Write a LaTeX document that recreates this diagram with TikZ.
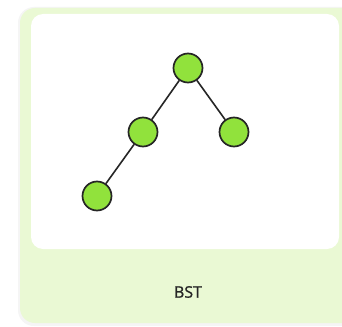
\documentclass[tikz,border=0pt]{standalone}
\usepackage{fontspec}
\setmainfont{Open Sans}
\newfontfamily\labelfont[FakeBold=1.2]{Open Sans}
\begin{document}
\begin{tikzpicture}[x=1pt,y=-1pt,
  treenode/.style={circle,draw=black!85,line width=1.7pt,fill=nodegreen,minimum size=29pt,inner sep=0pt},
  edge/.style={draw=black!85,line width=1.6pt}]
\definecolor{cardgreen}{RGB}{234,249,212}
\definecolor{nodegreen}{RGB}{145,226,60}
\useasboundingbox (0,0) rectangle (342,326);
\fill[white] (0,0) rectangle (342,326);
% faint shadow
\fill[black!4,rounded corners=16pt] (18,7) rectangle (360,326);
\fill[cardgreen,rounded corners=15pt] (20,8) rectangle (360,323);
\fill[white,rounded corners=12pt] (31,14) rectangle (339,249);
\node[treenode] (r) at (188,68) {};
\node[treenode] (a) at (143,132) {};
\node[treenode] (b) at (234,132) {};
\node[treenode] (c) at (97,196) {};
\draw[edge] (r) -- (a);
\draw[edge] (r) -- (b);
\draw[edge] (a) -- (c);
\node[font=\labelfont\fontsize{16}{19}\selectfont,text=black!85] (t) at (188,292) {BST};
\end{tikzpicture}
\end{document}
